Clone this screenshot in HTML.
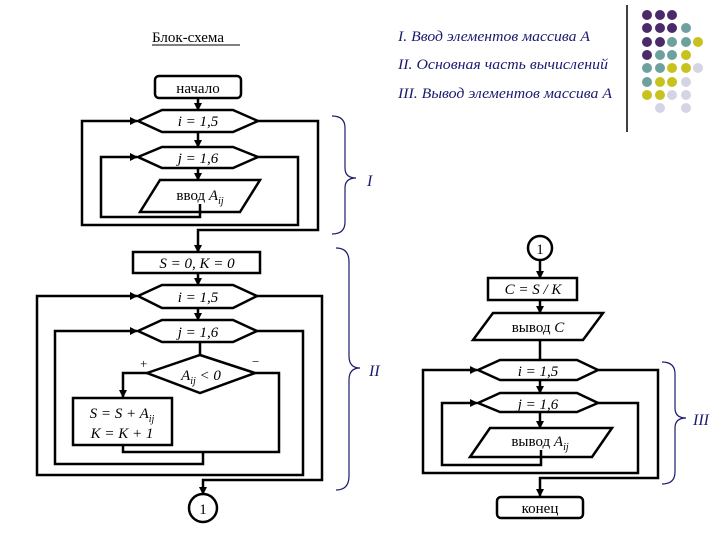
<!DOCTYPE html>
<html><head><meta charset="utf-8"><style>
html,body{margin:0;padding:0;background:#fff;}
svg{display:block}
text{font-family:"Liberation Serif",serif;}
</style></head><body>
<svg width="720" height="540" viewBox="0 0 720 540" xmlns="http://www.w3.org/2000/svg">
<defs><marker id="a" markerWidth="8" markerHeight="8" refX="7" refY="4" orient="auto" markerUnits="userSpaceOnUse"><path d="M0,0 L8,4 L0,8 Z" fill="#000"/></marker></defs>
<!-- header -->
<text x="152" y="42" font-size="15">Блок-схема</text>
<line x1="152" y1="45" x2="240" y2="45" stroke="#000" stroke-width="1"/>
<g font-size="15" font-style="italic" fill="#1a1a6e">
<text x="398" y="41" textLength="192" lengthAdjust="spacingAndGlyphs">I. Ввод элементов массива А</text>
<text x="398" y="69" textLength="210" lengthAdjust="spacingAndGlyphs">II. Основная часть вычислений</text>
<text x="398" y="98" textLength="214" lengthAdjust="spacingAndGlyphs">III. Вывод элементов массива А</text>
</g>
<line x1="627" y1="5" x2="627" y2="132" stroke="#000" stroke-width="1.5"/>
<g>
<circle cx="647" cy="15" r="5" fill="#4b2a6b"/><circle cx="660" cy="15" r="5" fill="#4b2a6b"/><circle cx="672" cy="15" r="5" fill="#4b2a6b"/>
<circle cx="647" cy="28" r="5" fill="#4b2a6b"/><circle cx="660" cy="28" r="5" fill="#4b2a6b"/><circle cx="672" cy="28" r="5" fill="#4b2a6b"/><circle cx="686" cy="28" r="5" fill="#6fa0a0"/>
<circle cx="647" cy="42" r="5" fill="#4b2a6b"/><circle cx="660" cy="42" r="5" fill="#4b2a6b"/><circle cx="672" cy="42" r="5" fill="#6fa0a0"/><circle cx="686" cy="42" r="5" fill="#6fa0a0"/><circle cx="698" cy="42" r="5" fill="#c8c21e"/>
<circle cx="647" cy="55" r="5" fill="#4b2a6b"/><circle cx="660" cy="55" r="5" fill="#6fa0a0"/><circle cx="672" cy="55" r="5" fill="#6fa0a0"/><circle cx="686" cy="55" r="5" fill="#c8c21e"/>
<circle cx="647" cy="68" r="5" fill="#6fa0a0"/><circle cx="660" cy="68" r="5" fill="#6fa0a0"/><circle cx="672" cy="68" r="5" fill="#c8c21e"/><circle cx="686" cy="68" r="5" fill="#c8c21e"/><circle cx="698" cy="68" r="5" fill="#d4d4e4"/>
<circle cx="647" cy="82" r="5" fill="#6fa0a0"/><circle cx="660" cy="82" r="5" fill="#c8c21e"/><circle cx="672" cy="82" r="5" fill="#c8c21e"/><circle cx="686" cy="82" r="5" fill="#d4d4e4"/>
<circle cx="647" cy="95" r="5" fill="#c8c21e"/><circle cx="660" cy="95" r="5" fill="#c8c21e"/><circle cx="672" cy="95" r="5" fill="#d4d4e4"/><circle cx="686" cy="95" r="5" fill="#d4d4e4"/>
<circle cx="660" cy="108" r="5" fill="#d4d4e4"/><circle cx="686" cy="108" r="5" fill="#d4d4e4"/>
</g>

<g stroke="#000" stroke-width="2.5" fill="none">
<rect x="155" y="76" width="86" height="22" rx="4" fill="#fff"/>
<line x1="198" y1="98" x2="198" y2="110" marker-end="url(#a)"/>
<polygon points="138,121 162,110 233,110 258,121 233,132 162,132" fill="#fff"/>
<line x1="198" y1="132" x2="198" y2="147" marker-end="url(#a)"/>
<polygon points="138,157 162,147 233,147 258,157 233,168 162,168" fill="#fff"/>
<line x1="198" y1="168" x2="198" y2="180" marker-end="url(#a)"/>
<polygon points="160,180 260,180 240,212 140,212" fill="#fff"/>
<polyline points="200,204 200,217 101,217 101,157 137,157" marker-end="url(#a)"/>
<polyline points="258,157 298,157 298,225 82,225 82,121 137,121" marker-end="url(#a)"/>
<polyline points="258,121 318,121 318,230 198,230 198,252" marker-end="url(#a)"/>
<rect x="133" y="252" width="127" height="21" fill="#fff"/>
<line x1="198" y1="273" x2="198" y2="285" marker-end="url(#a)"/>
<polygon points="138,296 162,285 233,285 257,296 233,308 162,308" fill="#fff"/>
<line x1="198" y1="308" x2="198" y2="320" marker-end="url(#a)"/>
<polygon points="138,331 162,320 233,320 257,331 233,342 162,342" fill="#fff"/>
<line x1="200" y1="342" x2="200" y2="355"/>
<polygon points="200,355 255,373 200,393 147,373" fill="#fff"/>
<polyline points="147,373 123,373 123,397" marker-end="url(#a)"/>
<rect x="73" y="398" width="99" height="47" fill="#fff"/>
<polyline points="255,373 279,373 279,452 123,452 123,446"/>
<polyline points="203,452 203,464 55,464 55,331 137,331" marker-end="url(#a)"/>
<polyline points="257,331 303,331 303,475 37,475 37,296 137,296" marker-end="url(#a)"/>
<polyline points="257,296 322,296 322,480 203,480 203,494" marker-end="url(#a)"/>
<circle cx="203" cy="508" r="14" fill="#fff"/>
<circle cx="540" cy="248" r="12" fill="#fff"/>
<line x1="540" y1="260" x2="540" y2="278" marker-end="url(#a)"/>
<rect x="488" y="278" width="89" height="22" fill="#fff"/>
<line x1="540" y1="300" x2="540" y2="313" marker-end="url(#a)"/>
<polygon points="493,313 603,313 583,340 473,340" fill="#fff"/>
<line x1="540" y1="340" x2="540" y2="360"/>
<polygon points="478,370 500,360 577,360 598,370 577,380 500,380" fill="#fff"/>
<line x1="540" y1="380" x2="540" y2="393" marker-end="url(#a)"/>
<polygon points="478,403 500,393 577,393 598,403 577,412 500,412" fill="#fff"/>
<line x1="540" y1="412" x2="540" y2="428" marker-end="url(#a)"/>
<polygon points="490,428 612,428 592,457 470,457" fill="#fff"/>
<polyline points="541,450 541,465 442,465 442,403 477,403" marker-end="url(#a)"/>
<polyline points="598,403 638,403 638,473 423,473 423,370 477,370" marker-end="url(#a)"/>
<polyline points="598,370 658,370 658,478 540,478 540,496" marker-end="url(#a)"/>
<rect x="497" y="497" width="86" height="21" rx="4" fill="#fff"/>
</g>

<g stroke="#1a1a6e" stroke-width="1.2" fill="none">
<path d="M332,116 Q345,116 345,128 L345,168 Q345,178 356,178 Q345,178 345,188 L345,222 Q345,234 332,234"/>
<path d="M336,248 Q349,248 349,262 L349,356 Q349,368 360,368 Q349,368 349,380 L349,476 Q349,490 336,490"/>
<path d="M662,362 Q675,362 675,374 L675,408 Q675,418 686,418 Q675,418 675,428 L675,472 Q675,484 662,484"/>
</g>
<g font-size="16" font-style="italic" fill="#1a1a6e">
<text x="367" y="186">I</text>
<text x="369" y="376">II</text>
<text x="693" y="425">III</text>
</g>

<g font-size="15" text-anchor="middle">
<text x="198" y="93">начало</text>
<text x="198" y="126" font-style="italic">i = 1,5</text>
<text x="198" y="163" font-style="italic">j = 1,6</text>
<text x="200" y="200">ввод <tspan font-style="italic">A</tspan><tspan font-style="italic" font-size="10" dy="4">ij</tspan></text>
<text x="197" y="268" font-style="italic">S = 0, K = 0</text>
<text x="198" y="302" font-style="italic">i = 1,5</text>
<text x="198" y="337" font-style="italic">j = 1,6</text>
<text x="201" y="380" font-style="italic">A<tspan font-size="10" dy="4">ij</tspan><tspan dy="-4"> &lt; 0</tspan></text>
<text x="122" y="418" font-style="italic">S = S + A<tspan font-size="10" dy="4">ij</tspan></text>
<text x="122" y="438" font-style="italic">K = K + 1</text>
<text x="203" y="514">1</text>
<text x="540" y="254">1</text>
<text x="533" y="294" font-style="italic">C = S / K</text>
<text x="538" y="332">вывод <tspan font-style="italic">C</tspan></text>
<text x="538" y="376" font-style="italic">i = 1,5</text>
<text x="538" y="409" font-style="italic">j = 1,6</text>
<text x="540" y="446">вывод <tspan font-style="italic">A</tspan><tspan font-style="italic" font-size="10" dy="4">ij</tspan></text>
<text x="540" y="513">конец</text>
</g>
<g font-size="13">
<text x="140" y="368">+</text>
<text x="252" y="366">−</text>
</g>
</svg>
</body></html>
